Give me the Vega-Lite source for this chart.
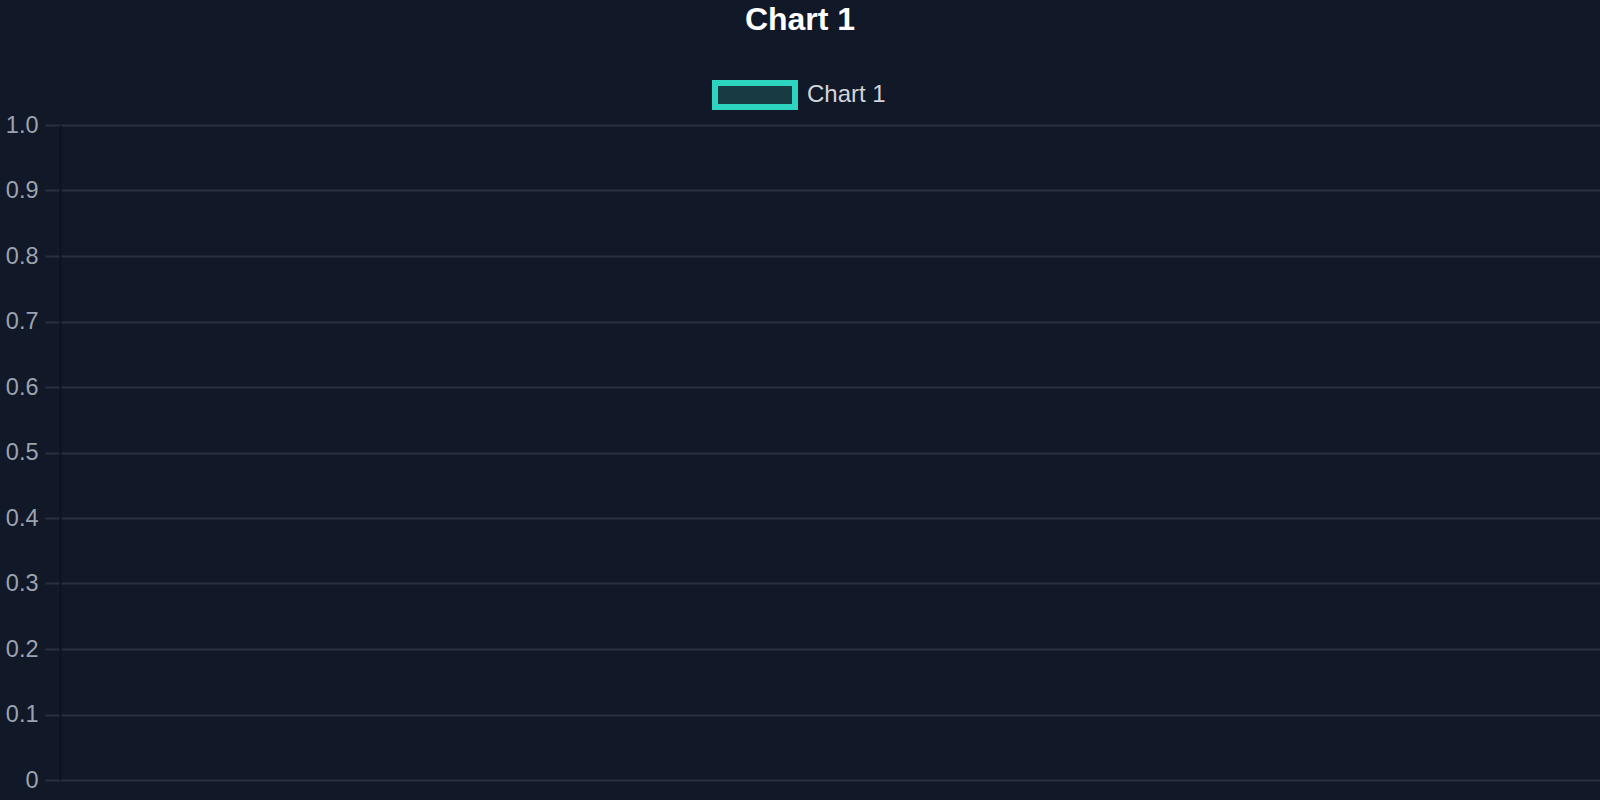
{
  "$schema": "https://vega.github.io/schema/vega-lite/v6.json",
  "width": 1540,
  "height": 655,
  "autosize": {"type": "none"},
  "padding": {"left": 60, "top": 125, "right": 0, "bottom": 20},
  "background": "#111827",
  "title": {
    "text": "Chart 1",
    "anchor": "middle",
    "frame": "group",
    "dx": -30,
    "dy": 20,
    "orient": "top",
    "offset": 10,
    "font": "Liberation Sans",
    "fontSize": 32,
    "fontWeight": "bold",
    "color": "#ffffff",
    "baseline": "alphabetic"
  },
  "data": {"values": [{"series": "Chart 1", "value": null}]},
  "mark": {"type": "bar", "fill": "#183a42", "strokeWidth": 6},
  "encoding": {
    "y": {
      "field": "value",
      "type": "quantitative",
      "scale": {"domain": [0, 1], "nice": false, "zero": true},
      "axis": {
        "title": null,
        "values": [0, 0.1, 0.2, 0.3, 0.4, 0.5, 0.6, 0.7, 0.8, 0.9, 1],
        "labelExpr": "datum.value == 0 ? '0' : format(datum.value, '.1f')",
        "grid": true,
        "gridColor": "#2a303d",
        "gridWidth": 2,
        "tickColor": "#2a303d",
        "tickSize": 15,
        "tickWidth": 2,
        "domainColor": "#0c1220",
        "domainWidth": 2,
        "labelColor": "#9ca3af",
        "labelFont": "Liberation Sans",
        "labelFontSize": 23.5,
        "labelPadding": 7
      }
    },
    "stroke": {
      "field": "series",
      "type": "nominal",
      "scale": {"domain": ["Chart 1"], "range": ["#2dd4bf"]},
      "legend": {
        "title": null,
        "orient": "none",
        "legendX": 652,
        "legendY": -73,
        "padding": 0,
        "symbolType": "M-1,-0.3H1V0.3H-1Z",
        "symbolSize": 6400,
        "symbolStrokeWidth": 6,
        "symbolFillColor": "#183a42",
        "labelFont": "Liberation Sans",
        "labelFontSize": 24,
        "labelColor": "#d1d5db",
        "labelOffset": 9,
        "encode": {
          "symbols": {
            "update": {
              "fill": {"value": "#183a42"},
              "stroke": {"value": "#2dd4bf"},
              "strokeWidth": {"value": 6},
              "opacity": {"value": 1}
            }
          }
        }
      }
    }
  },
  "config": {"view": {"stroke": null}}
}
